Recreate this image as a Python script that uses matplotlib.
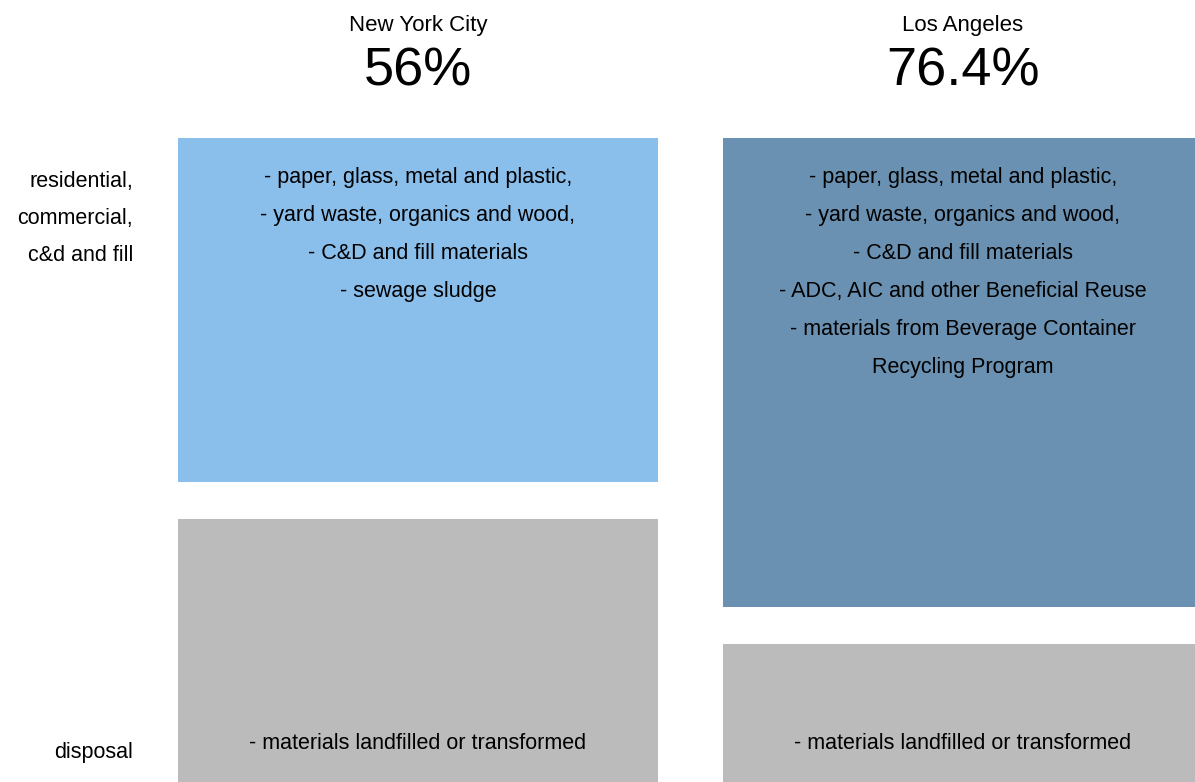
import matplotlib
matplotlib.use("Agg")
import matplotlib.pyplot as plt

plt.rcParams['font.family'] = ['Liberation Sans', 'DejaVu Sans']

cities = ["New York City", "Los Angeles"]
diverted_pct = [56, 76.4]
diverted_labels = ["56%", "76.4%"]
diverted_items = [
    ["- paper, glass, metal and plastic,",
     "- yard waste, organics and wood,",
     "- C&D and fill materials",
     "- sewage sludge"],
    ["- paper, glass, metal and plastic,",
     "- yard waste, organics and wood,",
     "- C&D and fill materials",
     "- ADC, AIC and other Beneficial Reuse",
     "- materials from Beverage Container",
     "Recycling Program"],
]
disposal_items = ["- materials landfilled or transformed",
                  "- materials landfilled or transformed"]
row_labels = [["residential,", "commercial,", "c&d and fill"], ["disposal"]]
colors = ["#8abeeb", "#6a91b1"]
gray = "#bbbbbb"

gap = 6.0
px = 6.14  # pixels per percent unit
step = 545  # pixels between column centres

fig = plt.figure(figsize=(11.95, 7.82), dpi=100)
ax = fig.add_axes([178 / 1195, -7 / 782, 1017 / 1195, 651 / 782])
ax.set_xlim(-240 / step, 1 + 232 / step)
ax.set_ylim(0, 100 + gap)
ax.axis("off")

xs = range(len(cities))
disposal = [100 - p for p in diverted_pct]
ax.bar(xs, disposal, width=480 / step, color=gray, align="center")
ax.bar(xs, diverted_pct, bottom=[d + gap for d in disposal], width=480 / step,
       color=colors, align="center")

fs = 15.5
line = 38 / px
for i, city in enumerate(cities):
    ax.text(i, (789 - 26) / px, city, ha="center", va="center", fontsize=16, clip_on=False)
    ax.text(i, (789 - 86) / px, diverted_labels[i], ha="center", va="baseline", fontsize=39, clip_on=False)
    for j, t in enumerate(diverted_items[i]):
        ax.text(i, 106 - 39 / px - j * line, t, ha="center", va="center", fontsize=fs)
    ax.text(i, 45 / px, disposal_items[i], ha="center", va="center", fontsize=fs)

lx = -45 / step - 240 / step
for j, t in enumerate(row_labels[0]):
    ax.text(lx, (789 - 182 - j * 37) / px, t, ha="right", va="center",
            fontsize=fs, clip_on=False)
ax.text(lx, (789 - 753) / px, row_labels[1][0], ha="right", va="center",
        fontsize=fs, clip_on=False)

fig.savefig("out.png", dpi=100)
